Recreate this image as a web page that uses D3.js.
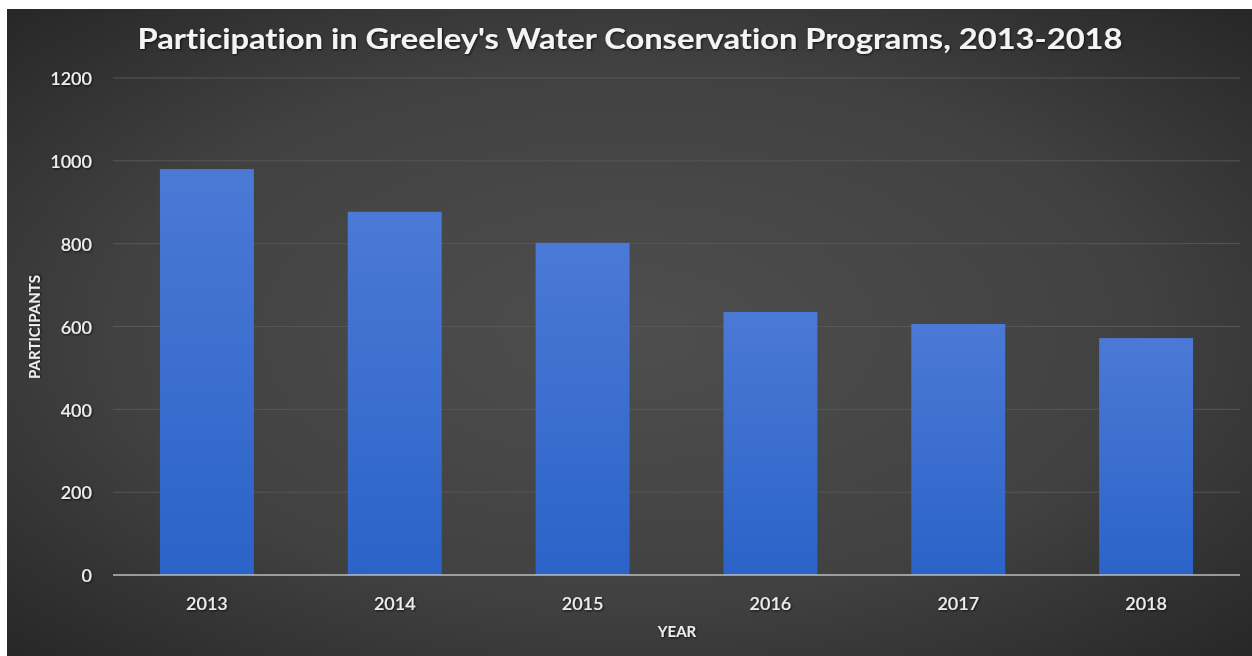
<!DOCTYPE html>
<html><head><meta charset="utf-8">
<script src="https://cdn.jsdelivr.net/npm/d3@7"></script>
<style>html,body{margin:0;padding:0;background:#fff;}svg{display:block;}text{font-variant-ligatures:none;font-feature-settings:"liga" 0;}</style>
</head><body>
<svg id="chart" width="1252" height="656"></svg>
<script>
const categories = ["2013","2014","2015","2016","2017","2018"];
const participants = [980, 877, 802, 635, 606, 572];
const yTicks = [0,200,400,600,800,1000,1200];
const title = "Participation in Greeley's Water Conservation Programs, 2013-2018";
const xTitle = "YEAR";
const yTitle = "PARTICIPANTS";

const svg = d3.select("#chart");
const defs = svg.append("defs");
const bg = defs.append("radialGradient").attr("id","bg").attr("cx","0.5").attr("cy","0.5").attr("r","0.75");
bg.append("stop").attr("offset","0").attr("stop-color","#4e4e4e");
bg.append("stop").attr("offset","0.55").attr("stop-color","#414141");
bg.append("stop").attr("offset","1").attr("stop-color","#232323");
const bar = defs.append("linearGradient").attr("id","bar").attr("x1",0).attr("y1",0).attr("x2",0).attr("y2",1);
bar.append("stop").attr("offset","0").attr("stop-color","#4b79d6");
bar.append("stop").attr("offset","1").attr("stop-color","#2b63c8");
const shadow = defs.append("filter").attr("id","sh").attr("x","-10%").attr("y","-30%").attr("width","120%").attr("height","160%");
shadow.append("feDropShadow").attr("dx",1).attr("dy",1).attr("stdDeviation",1.2).attr("flood-color","#000").attr("flood-opacity",0.7);

svg.append("rect").attr("x",7).attr("y",9).attr("width",1245).attr("height",647).attr("fill","url(#bg)");

const m = {left:113, right:1240, top:78, bottom:575};
const x = d3.scaleBand().domain(categories).range([m.left, m.right]).paddingInner(0.5).paddingOuter(0.25);
const y = d3.scaleLinear().domain([0,1200]).range([m.bottom, m.top]);

// gridlines
svg.append("g").selectAll("line").data(yTicks.filter(d=>d>0)).join("line")
  .attr("x1", m.left).attr("x2", m.right)
  .attr("y1", d=>y(d)).attr("y2", d=>y(d))
  .attr("stroke","#575757").attr("stroke-width",1);

// bars
svg.append("g").selectAll("rect").data(categories).join("rect")
  .attr("x", d=>x(d)).attr("width", x.bandwidth())
  .attr("y", (d,i)=>y(participants[i])).attr("height", (d,i)=>y(0)-y(participants[i]))
  .attr("fill","url(#bar)");

// axis line
svg.append("line").attr("x1",m.left).attr("x2",m.right).attr("y1",y(0)).attr("y2",y(0))
  .attr("stroke","#bdbdbd").attr("stroke-width",1.3);

const font = "Lato, 'Open Sans', sans-serif";
// y tick labels
const yAxis = d3.axisLeft(y).tickValues(yTicks).tickFormat(d3.format("d")).tickSize(0).tickPadding(0);
const gy = svg.append("g").attr("transform","translate(92,1)").call(yAxis);
gy.select(".domain").remove();
gy.selectAll("text").attr("fill","#ededed").style("font-family",font).style("font-size","18px")
  .style("font-weight","600").attr("text-anchor","end").attr("filter","url(#sh)");

// x tick labels
const xAxis = d3.axisBottom(x).tickSize(0).tickPadding(0);
const gx = svg.append("g").attr("transform",`translate(0,${y(0)})`).call(xAxis);
gx.select(".domain").remove();
gx.selectAll("text").attr("y",35).attr("dy",0).attr("fill","#ededed").style("font-family",font)
  .style("font-size","18px").style("font-weight","600").attr("filter","url(#sh)");

svg.append("text").attr("x",677).attr("y",637).attr("text-anchor","middle")
  .attr("fill","#ececec").style("font-family",font).style("font-size","15px").style("font-weight","bold")
  .attr("filter","url(#sh)").text(xTitle);
svg.append("text").attr("transform","translate(40,327) rotate(-90)").attr("text-anchor","middle")
  .attr("fill","#ececec").style("font-family",font).style("font-size","15px").style("font-weight","bold")
  .attr("filter","url(#sh)").text(yTitle);

svg.append("text").attr("x",630).attr("y",49).attr("text-anchor","middle")
  .attr("fill","#f4f4f4").style("font-family",font).style("font-size","29px").style("font-weight","bold")
  .attr("textLength",985).attr("lengthAdjust","spacingAndGlyphs").attr("filter","url(#sh)").text(title);
</script>
</body></html>
